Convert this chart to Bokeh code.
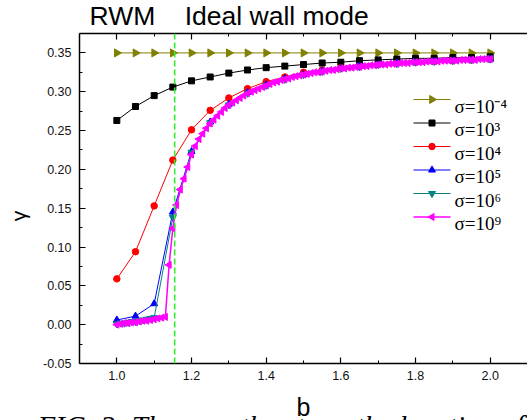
import math
from bokeh.plotting import figure
from bokeh.models import (Range1d, LinearAxis, SingleIntervalTicker, NumeralTickFormatter,
                          PrintfTickFormatter, CustomJSTickFormatter, Span, Label, Title)
from bokeh.embed import file_html
from bokeh.resources import INLINE

# ---------------- data ----------------
B_COARSE = [1.00, 1.05, 1.10, 1.15, 1.20, 1.25, 1.30, 1.35, 1.40, 1.45, 1.50,
            1.55, 1.60, 1.65, 1.70, 1.75, 1.80, 1.85, 1.90, 1.95, 2.00]

B_FINE = [1.00, 1.01, 1.02, 1.03, 1.04, 1.05, 1.06, 1.07, 1.08, 1.09,
          1.10, 1.11, 1.12, 1.13, 1.14, 1.15, 1.16, 1.17, 1.18, 1.19,
          1.20, 1.21, 1.22, 1.23, 1.24, 1.25, 1.26, 1.27, 1.28, 1.29,
          1.30, 1.31, 1.32, 1.33, 1.34, 1.35, 1.36, 1.37, 1.38, 1.39,
          1.40, 1.41, 1.42, 1.43, 1.44, 1.45, 1.46, 1.47, 1.48, 1.49,
          1.50, 1.51, 1.52, 1.53, 1.54, 1.55, 1.56, 1.57, 1.58, 1.59,
          1.60, 1.61, 1.62, 1.63, 1.64, 1.65, 1.66, 1.67, 1.68, 1.69,
          1.70, 1.71, 1.72, 1.73, 1.74, 1.75, 1.76, 1.77, 1.78, 1.79,
          1.80, 1.81, 1.82, 1.83, 1.84, 1.85, 1.86, 1.87, 1.88, 1.89,
          1.90, 1.91, 1.92, 1.93, 1.94, 1.95, 1.96, 1.97, 1.98, 1.99, 2.00]

G_SIG_M4 = [0.350] * 21  # sigma = 1e-4, flat
G_SIG_3 = [0.263, 0.281, 0.295, 0.306, 0.314, 0.319, 0.324, 0.328, 0.331, 0.333, 0.335,
           0.337, 0.338, 0.340, 0.341, 0.342, 0.343, 0.343, 0.344, 0.344, 0.345]
G_SIG_4 = [0.059, 0.094, 0.153, 0.212, 0.251, 0.276, 0.292, 0.304, 0.313, 0.319, 0.325,
           0.328, 0.331, 0.333, 0.335, 0.337, 0.338, 0.339, 0.340, 0.341, 0.342]
G_SIG_5 = [0.006, 0.011, 0.027, 0.145, 0.223, 0.261, 0.284, 0.299, 0.309, 0.317, 0.322,
           0.327, 0.330, 0.333, 0.335, 0.337, 0.338, 0.339, 0.340, 0.341, 0.342]

B_SIG_6 = [1.00, 1.01, 1.02, 1.03, 1.04, 1.05, 1.06, 1.07, 1.08, 1.09, 1.10,
           1.15, 1.20, 1.25, 1.30, 1.35, 1.40, 1.45, 1.50, 1.55, 1.60,
           1.65, 1.70, 1.75, 1.80, 1.85, 1.90, 1.95, 2.00]
G_SIG_6 = [0.001, 0.002, 0.002, 0.003, 0.004, 0.004, 0.005, 0.006, 0.007, 0.008, 0.009,
           0.138, 0.222, 0.260, 0.283, 0.298, 0.308, 0.316, 0.322, 0.326, 0.330,
           0.332, 0.335, 0.336, 0.338, 0.339, 0.340, 0.341, 0.342]

G_SIG_9 = [0.000, 0.001, 0.002, 0.002, 0.003, 0.003, 0.004, 0.005, 0.005, 0.006,
           0.007, 0.008, 0.009, 0.010, 0.077, 0.124, 0.154, 0.174, 0.188, 0.203,
           0.219, 0.230, 0.239, 0.246, 0.253, 0.259, 0.264, 0.269, 0.274, 0.279,
           0.283, 0.286, 0.289, 0.292, 0.295, 0.298, 0.300, 0.302, 0.304, 0.306,
           0.308, 0.310, 0.312, 0.313, 0.315, 0.316, 0.317, 0.319, 0.320, 0.321,
           0.322, 0.323, 0.324, 0.325, 0.325, 0.326, 0.327, 0.328, 0.328, 0.329,
           0.330, 0.330, 0.331, 0.331, 0.332, 0.332, 0.333, 0.333, 0.334, 0.334,
           0.335, 0.335, 0.335, 0.336, 0.336, 0.336, 0.337, 0.337, 0.337, 0.338,
           0.338, 0.338, 0.338, 0.339, 0.339, 0.339, 0.339, 0.340, 0.340, 0.340,
           0.340, 0.340, 0.341, 0.341, 0.341, 0.341, 0.341, 0.342, 0.342, 0.342, 0.342]

LABELS = ["σ=10⁻⁴", "σ=10³", "σ=10⁴", "σ=10⁵", "σ=10⁶", "σ=10⁹"]
B_CRIT = 1.155  # ideal-wall limit (dashed line)
NB = "\u00a0"
TOP_TEXT = "RWM" + NB * 4 + "Ideal wall mode"
X_TITLE = NB + "\nb"          # blank first line lowers the letter inside its box
Y_TITLE = "γ" + NB * 6        # padding moves the rotated glyph below the axis centre
CAPTION = NB + "\nFIG. 2: The growth rate vs the location of"

# ---------------- layout ----------------
W, H = 527, 420
FL, FR, FT, FB = 79, 527, 33, 363
X0, X1 = 0.9, 2.1
Y0, Y1 = -0.05, 0.375


def dx(px):
    return X0 + (px - FL) / (FR - FL) * (X1 - X0)


def dy(py):
    return Y1 - (py - FT) / (FB - FT) * (Y1 - Y0)


p = figure(width=W, height=H, output_backend="svg", toolbar_location=None,
           x_range=Range1d(X0, X1), y_range=Range1d(Y0, Y1),
           min_border_left=FL, min_border_right=W - FR,
           min_border_top=FT, min_border_bottom=H - FB,
           background_fill_color="white", border_fill_color="white")
p.xgrid.visible = False
p.ygrid.visible = False
p.outline_line_color = None

bottom_ax = p.below[0]
left_ax = p.left[0]
top_ax = LinearAxis()
p.add_layout(top_ax, "above")

SANS = "Liberation Sans"
SERIF = "Liberation Serif"
for ax in [bottom_ax, top_ax]:
    ax.ticker = SingleIntervalTicker(interval=0.2, num_minor_ticks=2)
    ax.formatter = PrintfTickFormatter(format="%.1f")
left_ax.ticker = SingleIntervalTicker(interval=0.05, num_minor_ticks=2)
left_ax.formatter = NumeralTickFormatter(format="0.00")
for ax in [bottom_ax, top_ax, left_ax]:
    ax.major_tick_in = 6
    ax.major_tick_out = 0
    ax.minor_tick_in = 3
    ax.minor_tick_out = 0
    ax.axis_line_color = "black"
    ax.axis_line_width = 1.5
    ax.major_tick_line_width = 1.2
    ax.major_label_text_font = SANS
    ax.major_label_text_font_size = "12.5px"
    ax.major_label_text_color = "#111111"
    ax.major_label_standoff = 8
    ax.axis_label_text_font = SANS
    ax.axis_label_text_font_style = "normal"
    ax.axis_label_text_color = "black"
top_ax.formatter = CustomJSTickFormatter(code="return ''")
top_ax.major_label_standoff = 0

bottom_ax.major_label_standoff = 7
left_ax.axis_label = Y_TITLE
left_ax.axis_label_text_font_size = "21px"
left_ax.axis_label_standoff = 10

# ---------------- series ----------------
series = [
    (B_COARSE, G_SIG_M4, "#808000", "triangle", -math.pi / 2, 8, 1.0),
    (B_COARSE, G_SIG_3, "#000000", "square", 0.0, 6, 1.0),
    (B_COARSE, G_SIG_4, "#ff0000", "circle", 0.0, 6.5, 1.0),
    (B_COARSE, G_SIG_5, "#0000ff", "triangle", 0.0, 7, 1.0),
    (B_SIG_6, G_SIG_6, "#008080", "inverted_triangle", 0.0, 7, 1.0),
    (B_FINE, G_SIG_9, "#ff00ff", "triangle", math.pi / 2, 7, 1.5),
]
for xs, ys, col, mk, ang, sz, lw in series:
    p.line(xs, ys, line_color=col, line_width=lw)
    p.scatter(xs, ys, marker=mk, angle=ang, size=sz, fill_color=col, line_color=col)

p.add_layout(Span(location=B_CRIT, dimension="height", line_color="#33ee33",
                  line_dash="6 3", line_width=1.6))

# ---------------- legend (drawn by hand so the rotated markers show) ----------------
LEG_X0, LEG_X1, LEG_TX = 413, 450, 454
LEG_Y0, LEG_DY = 99, 23.5
for i, ((xs, ys, col, mk, ang, sz, lw), lab) in enumerate(zip(series, LABELS)):
    ry = dy(LEG_Y0 + i * LEG_DY)
    p.line([dx(LEG_X0), dx(LEG_X1)], [ry, ry], line_color=col, line_width=lw)
    p.scatter([dx((LEG_X0 + LEG_X1) / 2)], [ry], marker=mk, angle=ang, size=sz,
              fill_color=col, line_color=col)
    p.add_layout(Label(x=dx(LEG_TX), y=dy(LEG_Y0 + i * LEG_DY + 6.5), text=lab,
                       text_font=SERIF, text_font_size="19px", text_color="black",
                       text_align="left", text_baseline="alphabetic"))

# ---------------- titles ----------------
p.add_layout(Title(text=TOP_TEXT, align="left", offset=10, vertical_align="top",
                   standoff=1, text_font=SANS, text_font_size="26.5px",
                   text_font_style="normal", text_color="black"), "above")
p.add_layout(Title(text=X_TITLE, align="center", vertical_align="bottom",
                   standoff=-6, text_font=SANS, text_font_size="25px",
                   text_line_height=0.43,
                   text_font_style="normal", text_color="black"), "below")
p.add_layout(Title(text=CAPTION, align="left", offset=-42, vertical_align="bottom",
                   standoff=-48, text_font=SERIF, text_font_size="29px",
                   text_line_height=0.43,
                   text_font_style="italic", text_color="black"), "below")

open("out.html", "w").write(file_html(p, INLINE))
